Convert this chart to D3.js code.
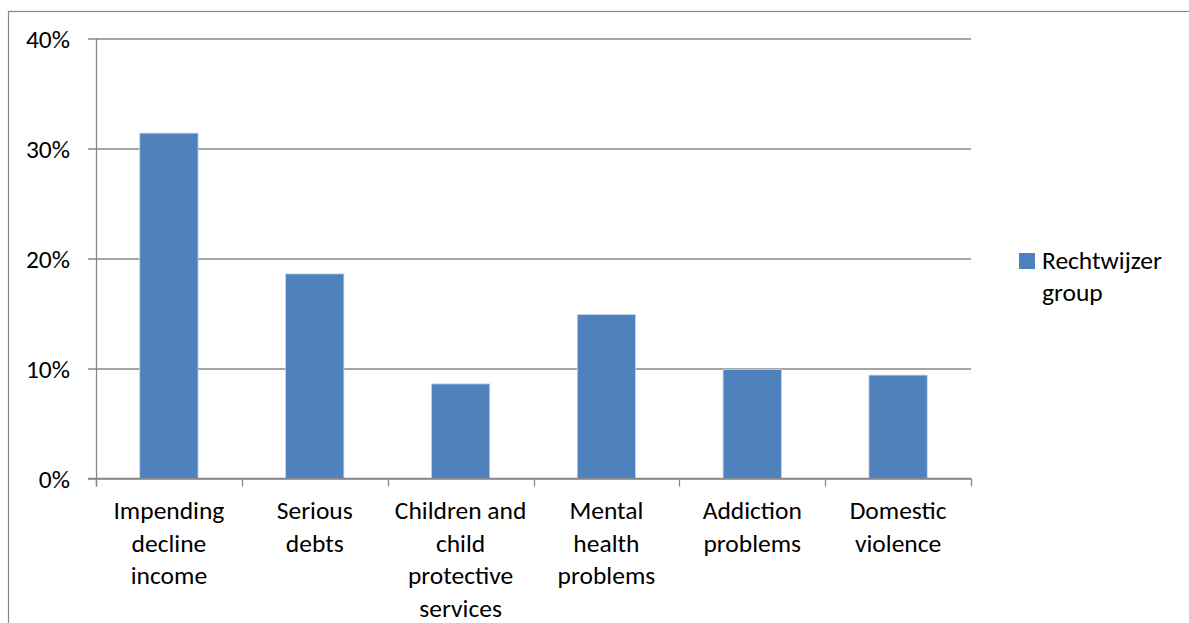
<!DOCTYPE html>
<html>
<head>
<meta charset="utf-8">
<script src="https://cdn.jsdelivr.net/npm/d3@7"></script>
<style>
  html, body { margin: 0; padding: 0; background: #fff; }
  svg { display: block; }
  text { font-family: Carlito, Lato, "Open Sans", sans-serif; fill: #000; }
</style>
</head>
<body>
<svg id="chart" width="1189" height="623"></svg>
<script>
// Share of participants per problem area
const categories = [
  ["Impending", "decline", "income"],
  ["Serious", "debts"],
  ["Children and", "child", "protective", "services"],
  ["Mental", "health", "problems"],
  ["Addiction", "problems"],
  ["Domestic", "violence"]
];
const values = [0.314, 0.186, 0.086, 0.149, 0.099, 0.094];
const yTicks = [0, 0.1, 0.2, 0.3, 0.4];
const seriesName = ["Rechtwijzer", "group"];

const svg = d3.select("#chart");
const W = 1189, H = 623;
const plot = { left: 96, right: 971, top: 38.5, bottom: 478.5 };
const axisColor = "#878787";
const barColor = "#4F81BD";
const fontSize = 25.5;
const lineH = 32.7;

// Outer chart border
svg.append("rect")
  .attr("x", 8.5).attr("y", 11.5)
  .attr("width", W + 10).attr("height", H + 10)
  .attr("fill", "none").attr("stroke", axisColor).attr("stroke-width", 1.2);

const x = d3.scaleBand()
  .domain(d3.range(categories.length))
  .range([plot.left, plot.right])
  .paddingInner(0.6)
  .paddingOuter(0.3);

const y = d3.scaleLinear()
  .domain([0, 0.4])
  .range([plot.bottom, plot.top]);

// Horizontal gridlines with small outward ticks
const yAxis = d3.axisLeft(y)
  .tickValues(yTicks)
  .tickSize(-(plot.right - plot.left + 8))
  .tickFormat(d3.format(".0%"));

const gy = svg.append("g")
  .attr("transform", `translate(${plot.left - 8},0)`)
  .call(yAxis);
gy.select(".domain").remove();
gy.selectAll(".tick line")
  .attr("stroke", axisColor).attr("stroke-width", 1.3);
gy.selectAll(".tick text")
  .attr("x", -18)
  .attr("dy", "0.34em")
  .style("font-size", fontSize + "px")
  .style("font-family", "Carlito, Lato, 'Open Sans', sans-serif")
  .attr("fill", "#000");

// Vertical axis line
svg.append("line")
  .attr("x1", plot.left + 0.5).attr("x2", plot.left + 0.5)
  .attr("y1", plot.top).attr("y2", plot.bottom + 8)
  .attr("stroke", axisColor).attr("stroke-width", 1.3);

// Category boundary ticks on the horizontal axis
const step = x.step();
const boundaries = d3.range(categories.length + 1).map(i => plot.left + i * step);
svg.append("g").selectAll("line")
  .data(boundaries)
  .join("line")
  .attr("x1", d => Math.round(d) + 0.5).attr("x2", d => Math.round(d) + 0.5)
  .attr("y1", plot.bottom).attr("y2", plot.bottom + 8)
  .attr("stroke", axisColor).attr("stroke-width", 1.3);

// Bars
svg.append("g").selectAll("rect")
  .data(values)
  .join("rect")
  .attr("x", (d, i) => x(i))
  .attr("y", d => y(d))
  .attr("width", x.bandwidth())
  .attr("height", d => y(0) - y(d))
  .attr("fill", barColor)
  .attr("stroke", "#c9d7ea")
  .attr("stroke-width", 0.8);

// Redraw baseline over the bars
svg.append("line")
  .attr("x1", plot.left - 8).attr("x2", plot.right)
  .attr("y1", y(0)).attr("y2", y(0))
  .attr("stroke", axisColor).attr("stroke-width", 1.3);

// Wrapped category labels
const labels = svg.append("g").selectAll("text")
  .data(categories)
  .join("text")
  .attr("text-anchor", "middle")
  .style("font-size", fontSize + "px")
  .attr("transform", (d, i) => `translate(${x(i) + x.bandwidth() / 2},519)`);
labels.selectAll("tspan")
  .data(d => d)
  .join("tspan")
  .attr("x", 0)
  .attr("y", (d, j) => j * lineH)
  .text(d => d);

// Legend
const legend = svg.append("g").attr("transform", "translate(1019,253)");
legend.append("rect")
  .attr("width", 16).attr("height", 16)
  .attr("fill", barColor);
legend.append("text")
  .style("font-size", fontSize + "px")
  .selectAll("tspan")
  .data(seriesName)
  .join("tspan")
  .attr("x", 23)
  .attr("y", (d, j) => 15.5 + j * lineH)
  .text(d => d);
</script>
</body>
</html>
